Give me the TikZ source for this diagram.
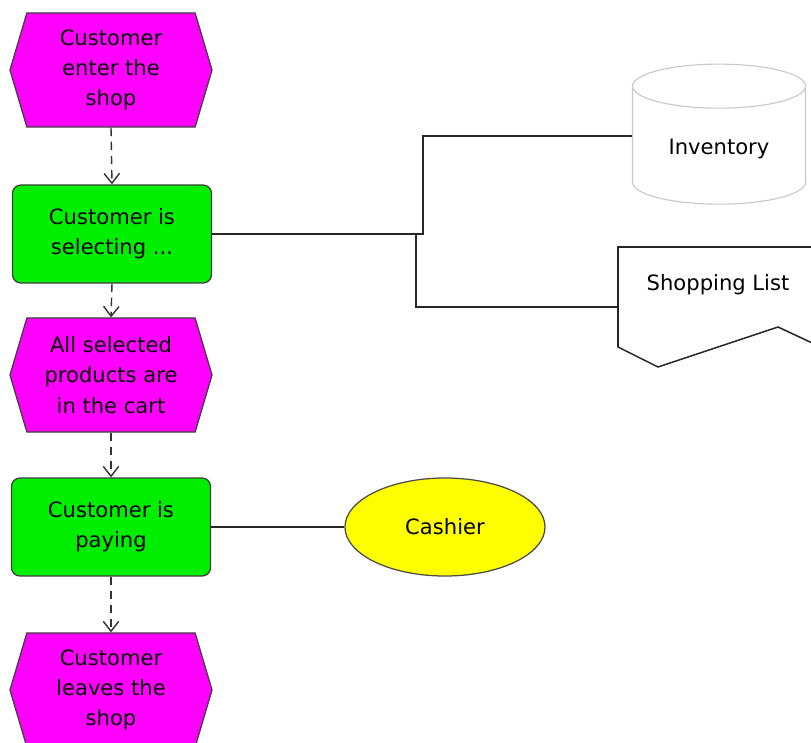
\documentclass[tikz,border=0pt]{standalone}
\usepackage{fontspec}
\setmainfont{DejaVu Sans}
\usepackage{tikz}
\usetikzlibrary{shapes.geometric,shapes.symbols,arrows.meta,positioning}
\definecolor{magentaEv}{RGB}{255,0,255}
\definecolor{vertFn}{RGB}{0,238,0}
\definecolor{jauneOrg}{RGB}{255,255,0}
\definecolor{grisBord}{RGB}{200,200,200}

\begin{document}
\begin{tikzpicture}[x=0.025cm,y=-0.025cm,font=\fontsize{15}{21.5}\selectfont,
  event/.style={signal,signal to=west and east,signal pointer angle=147,fill=magentaEv,
                draw=black!75,line width=0.9pt,minimum width=5.05cm,minimum height=2.85cm,
                align=center,inner sep=0pt},
  func/.style={rectangle,rounded corners=6pt,fill=vertFn,draw=black!75,line width=0.9pt,
               minimum width=4.975cm,minimum height=2.45cm,align=center},
  flow/.style={-{Straight Barb[length=7pt,width=11pt]},dash pattern=on 6pt off 4pt,
               black!80,line width=1pt},
  link/.style={black!85,line width=1.1pt}]
  \useasboundingbox (0,0) rectangle (811,743);

  \node[event] (E1) at (111,70) {Customer\\enter the\\shop};
  \node[func] (F1) at (112,234) {Customer is\\selecting ...};
  \node[event] (E2) at (111,375) {All selected\\products are\\in the cart};
  \node[func] (F2) at (111,527) {Customer is\\paying};
  \node[event] (E3) at (111,690) {Customer\\leaves the\\shop};

  \node[cylinder,shape border rotate=90,aspect=0.4,draw=grisBord,line width=0.8pt,
        minimum width=4.325cm,minimum height=3.5cm] (Inv) at (719,149) {Inventory};

  % document
  \draw[link,fill=white] (840,247) -- (618,247) -- (618,347) -- (658,367) -- (778,327) -- (840,356);
  \node (List) at (718,285) {Shopping List};
  \coordinate (ListIn) at (618,307);

  \node[ellipse,fill=jauneOrg,draw=black!70,line width=0.9pt,
        minimum width=5cm,minimum height=2.45cm] (Cashier) at (445,527) {Cashier};

  \draw[flow] (E1.south) -- (F1.north);
  \draw[flow] (F1.south) -- (E2.north);
  \draw[flow] (E2.south) -- (F2.north);
  \draw[flow] (F2.south) -- (E3.north);

  \draw[link] (F1.east) -- ++(211,0) |- ([yshift=0.325cm]Inv.west);
  \draw[link] (F1.east) -- ++(204,0) |- (ListIn);
  \draw[link] (F2.east) -- (Cashier.west);
\end{tikzpicture}
\end{document}
